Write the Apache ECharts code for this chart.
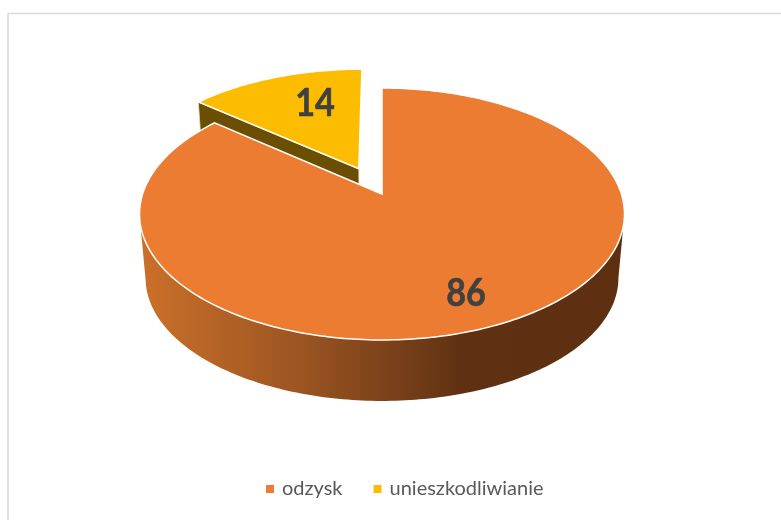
<!DOCTYPE html>
<html>
<head>
<meta charset="utf-8">
<style>
  html, body { margin: 0; padding: 0; background: #fff; }
  #chart { width: 781px; height: 520px; }
</style>
<script src="https://cdn.jsdelivr.net/npm/echarts@6/dist/echarts.min.js"></script>
</head>
<body>
<div id="chart"></div>
<script>
// dane wykresu
const categories = ['odzysk', 'unieszkodliwianie'];
const values = [86, 14];
const colors = ['#EB7C31', '#FCBD01'];

// wyciecie wycinka (w promieniach kola) i polozenie etykiet
const explode = [0, 0.235];
const labelPos = [[466, 294], [315, 104]];

// perspektywa kola: srodek, promienie, k = zbieznosc
const CX = 382, CY = 194, AX = 239.4, AY = 122.8, K = 0.1587;
// dolna podstawa walca
const BOTTOM_SCALE = 0.975, BOTTOM_CY = 258.6;

const total = values.reduce((a, b) => a + b, 0);

function project(x, y, bottom) {
    const w = 1 + K * y;
    const s = bottom ? BOTTOM_SCALE : 1;
    const cy = bottom ? BOTTOM_CY : CY;
    return [CX + s * AX * x / w, cy - s * AY * y / w];
}

// kat liczony od godziny 12, zgodnie z ruchem wskazowek
function rim(deg, off, mid, bottom) {
    const a = deg * Math.PI / 180, m = mid * Math.PI / 180;
    return project(Math.sin(a) + off * Math.sin(m), Math.cos(a) + off * Math.cos(m), bottom);
}

function sliceRange(i) {
    const before = values.slice(0, i).reduce((a, b) => a + b, 0);
    return [before / total * 360, (before + values[i]) / total * 360];
}

function renderSlice(i) {
    return function (params, api) {
        const [start, end] = sliceRange(i);
        const size = api.value(0) / total * 360;
        const mid = start + size / 2;
        const off = explode[i];
        const children = [];

        // boczna scianka od strony widza
        const tilt = Math.asin(K) * 180 / Math.PI;
        const from = Math.max(start, 90 + tilt), to = Math.min(end, 270 - tilt);
        if (to > from) {
            const top = [], low = [];
            for (let d = from; d <= to; d += 1) {
                top.push(rim(d, off, mid, false));
                low.push(rim(d, off, mid, true));
            }
            children.push({
                type: 'polygon',
                shape: { points: top.concat(low.reverse()) },
                style: {
                    fill: {
                        type: 'linear', global: true, x: 139, y: 0, x2: 624, y2: 0,
                        colorStops: [
                            { offset: 0, color: '#cc7029' },
                            { offset: 0.33, color: '#9c5522' },
                            { offset: 0.67, color: '#5f3112' },
                            { offset: 1, color: '#5e3011' }
                        ]
                    }
                }
            });
        }

        // sciana przeciecia wycinka wysunietego
        if (off > 0) {
            const m = mid * Math.PI / 180;
            const ax = off * Math.sin(m), ay = off * Math.cos(m);
            children.push({
                type: 'polygon',
                shape: {
                    points: [
                        project(ax, ay, false),
                        rim(start, off, mid, false),
                        rim(start, off, mid, true),
                        project(ax, ay, true)
                    ]
                },
                style: { fill: '#6b4e00', stroke: '#e9dfb8', lineWidth: 0.8 }
            });
        }

        // gorna powierzchnia
        const m = mid * Math.PI / 180;
        const points = [project(off * Math.sin(m), off * Math.cos(m), false)];
        const steps = Math.ceil(size);
        for (let s = 0; s <= steps; s++) {
            points.push(rim(start + size * s / steps, off, mid, false));
        }
        children.push({
            type: 'polygon',
            shape: { points: points },
            style: { fill: colors[i], stroke: '#fff', lineWidth: 1.5 }
        });

        // etykieta, zwezona jak w oryginale
        children.push({
            type: 'text',
            z2: 10,
            x: labelPos[i][0],
            y: labelPos[i][1],
            scaleX: 0.9,
            style: {
                text: String(api.value(0)),
                fill: '#404040',
                stroke: '#404040',
                lineWidth: 0.6,
                font: 'bold 38px Lato',
                align: 'center',
                verticalAlign: 'middle'
            }
        });
        return { type: 'group', children: children };
    };
}

const chart = echarts.init(document.getElementById('chart'));

// wycinek wysuniety rysowany pierwszy, pod glowna czescia kola
const series = categories.map((name, i) => ({
    name: name,
    type: 'custom',
    coordinateSystem: 'none',
    z: i === 0 ? 3 : 2,
    silent: true,
    itemStyle: { color: colors[i] },
    data: [values[i]],
    renderItem: renderSlice(i)
}));

chart.setOption({
    animation: false,
    backgroundColor: '#fff',
    graphic: [
        { type: 'polyline', shape: { points: [[8, 520], [8, 13.5], [781, 13.5]] },
          style: { stroke: '#d9d9d9', lineWidth: 1.5, fill: 'none' } }
    ],
    legend: {
        data: categories,
        left: 261,
        top: 474,
        icon: 'rect',
        itemWidth: 8,
        itemHeight: 8,
        itemGap: 31,
        selectedMode: false,
        textStyle: { color: '#595959', fontSize: 20, fontFamily: 'Lato', padding: [0, 0, 0, 3] }
    },
    series: series
});

window.addEventListener('resize', () => chart.resize());
</script>
</body>
</html>
